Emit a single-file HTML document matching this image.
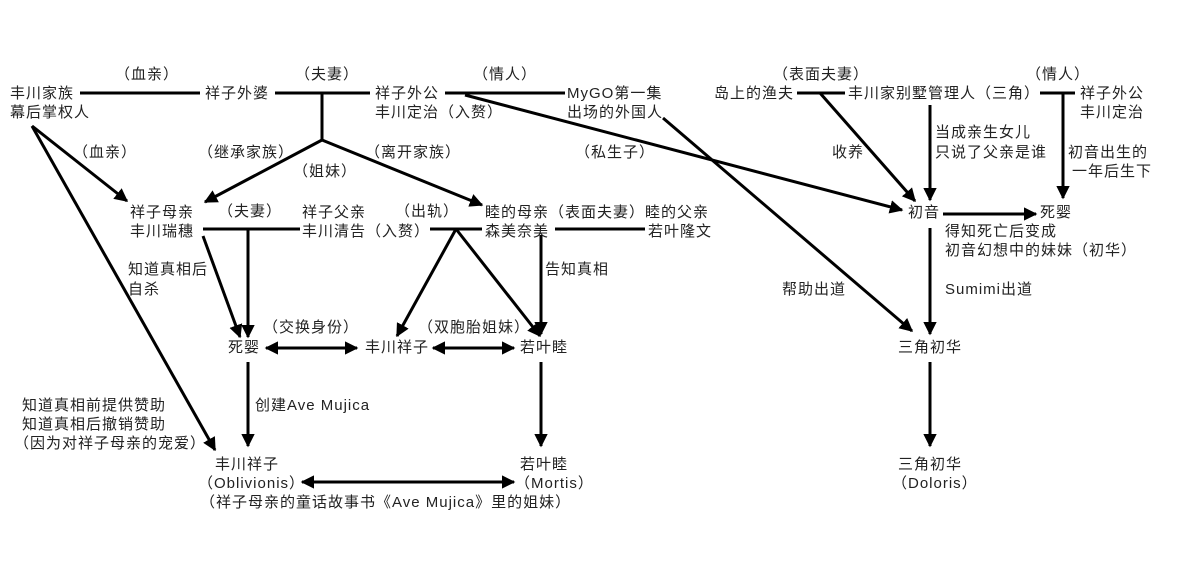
<!DOCTYPE html>
<html><head><meta charset="utf-8"><style>
html,body{margin:0;padding:0;background:#fff}
svg{display:block}
text{font-family:"Liberation Sans","Noto Sans CJK SC",sans-serif;font-size:15px;letter-spacing:1px;fill:#222;dominant-baseline:middle}
line,polyline{stroke:#000;stroke-width:3;fill:none}
</style></head><body>
<svg width="1192" height="572" viewBox="0 0 1192 572" xmlns="http://www.w3.org/2000/svg">
<defs>
<marker id="a" viewBox="0 0 10 10" refX="9" refY="5" markerWidth="4.5" markerHeight="4.5" orient="auto-start-reverse" markerUnits="strokeWidth"><path d="M0,0 L10,5 L0,10 z" fill="#000"/></marker>
</defs>
<line x1="80" y1="93" x2="200" y2="93"/>
<line x1="275" y1="93" x2="370" y2="93"/>
<line x1="322" y1="93" x2="322" y2="140"/>
<line x1="445" y1="93" x2="565" y2="93"/>
<line x1="465" y1="95" x2="902" y2="210" marker-end="url(#a)"/>
<line x1="663" y1="118" x2="912" y2="331" marker-end="url(#a)"/>
<line x1="322" y1="140" x2="205" y2="202" marker-end="url(#a)"/>
<line x1="322" y1="140" x2="482" y2="205" marker-end="url(#a)"/>
<line x1="32" y1="126" x2="127" y2="201" marker-end="url(#a)"/>
<line x1="32" y1="126" x2="215" y2="450" marker-end="url(#a)"/>
<line x1="203" y1="229" x2="300" y2="229"/>
<line x1="248" y1="229" x2="248" y2="337" marker-end="url(#a)"/>
<line x1="203" y1="236" x2="240" y2="337" marker-end="url(#a)"/>
<line x1="430" y1="229" x2="482" y2="229"/>
<line x1="456" y1="229" x2="397" y2="336" marker-end="url(#a)"/>
<line x1="456" y1="229" x2="540" y2="336" marker-end="url(#a)"/>
<line x1="555" y1="229" x2="645" y2="229"/>
<line x1="541" y1="235" x2="541" y2="334" marker-end="url(#a)"/>
<line x1="266" y1="348" x2="357" y2="348" marker-start="url(#a)" marker-end="url(#a)"/>
<line x1="433" y1="348" x2="514" y2="348" marker-start="url(#a)" marker-end="url(#a)"/>
<line x1="248" y1="362" x2="248" y2="446" marker-end="url(#a)"/>
<line x1="541" y1="362" x2="541" y2="446" marker-end="url(#a)"/>
<line x1="302" y1="482" x2="514" y2="482" marker-start="url(#a)" marker-end="url(#a)"/>
<line x1="797" y1="93" x2="845" y2="93"/>
<line x1="820" y1="93" x2="915" y2="201" marker-end="url(#a)"/>
<line x1="930" y1="105" x2="930" y2="200" marker-end="url(#a)"/>
<line x1="1040" y1="93" x2="1075" y2="93"/>
<line x1="1063" y1="93" x2="1063" y2="198" marker-end="url(#a)"/>
<line x1="943" y1="214" x2="1036" y2="214" marker-end="url(#a)"/>
<line x1="930" y1="228" x2="930" y2="334" marker-end="url(#a)"/>
<line x1="930" y1="362" x2="930" y2="446" marker-end="url(#a)"/>
<text x="115" y="75">（血亲）</text>
<text x="10" y="94">丰川家族</text><text x="10" y="113">幕后掌权人</text>
<text x="205" y="94">祥子外婆</text>
<text x="295" y="75">（夫妻）</text>
<text x="375" y="94">祥子外公</text><text x="375" y="113">丰川定治（入赘）</text>
<text x="473" y="75">（情人）</text>
<text x="567" y="94">MyGO第一集</text><text x="567" y="113">出场的外国人</text>
<text x="73" y="153">（血亲）</text>
<text x="198" y="153">（继承家族）</text>
<text x="365" y="153">（离开家族）</text>
<text x="293" y="172">（姐妹）</text>
<text x="575" y="153">（私生子）</text>
<text x="130" y="213">祥子母亲</text><text x="130" y="232">丰川瑞穗</text>
<text x="218" y="212">（夫妻）</text>
<text x="302" y="213">祥子父亲</text><text x="302" y="232">丰川清告（入赘）</text>
<text x="395" y="212">（出轨）</text>
<text x="485" y="213">睦的母亲（表面夫妻）睦的父亲</text>
<text x="485" y="232">森美奈美</text><text x="648" y="232">若叶隆文</text>
<text x="128" y="270">知道真相后</text><text x="128" y="290">自杀</text>
<text x="545" y="270">告知真相</text>
<text x="263" y="328">（交换身份）</text>
<text x="418" y="328">（双胞胎姐妹）</text>
<text x="228" y="348">死婴</text>
<text x="365" y="348">丰川祥子</text>
<text x="520" y="348">若叶睦</text>
<text x="22" y="406">知道真相前提供赞助</text>
<text x="22" y="425">知道真相后撤销赞助</text>
<text x="14" y="444">（因为对祥子母亲的宠爱）</text>
<text x="255" y="406">创建Ave Mujica</text>
<text x="215" y="465">丰川祥子</text><text x="198" y="484">（Oblivionis）</text>
<text x="520" y="465">若叶睦</text><text x="515" y="484">（Mortis）</text>
<text x="200" y="503">（祥子母亲的童话故事书《Ave Mujica》里的姐妹）</text>
<text x="773" y="75">（表面夫妻）</text>
<text x="714" y="94">岛上的渔夫</text>
<text x="848" y="94">丰川家别墅管理人（三角）</text>
<text x="1026" y="75">（情人）</text>
<text x="1080" y="94">祥子外公</text><text x="1080" y="113">丰川定治</text>
<text x="935" y="133">当成亲生女儿</text><text x="935" y="153">只说了父亲是谁</text>
<text x="832" y="153">收养</text>
<text x="1068" y="153">初音出生的</text><text x="1072" y="172">一年后生下</text>
<text x="908" y="213">初音</text>
<text x="1040" y="213">死婴</text>
<text x="945" y="232">得知死亡后变成</text><text x="945" y="251">初音幻想中的妹妹（初华）</text>
<text x="782" y="290">帮助出道</text>
<text x="945" y="290">Sumimi出道</text>
<text x="898" y="348">三角初华</text>
<text x="898" y="465">三角初华</text><text x="892" y="484">（Doloris）</text>
</svg>
</body></html>
